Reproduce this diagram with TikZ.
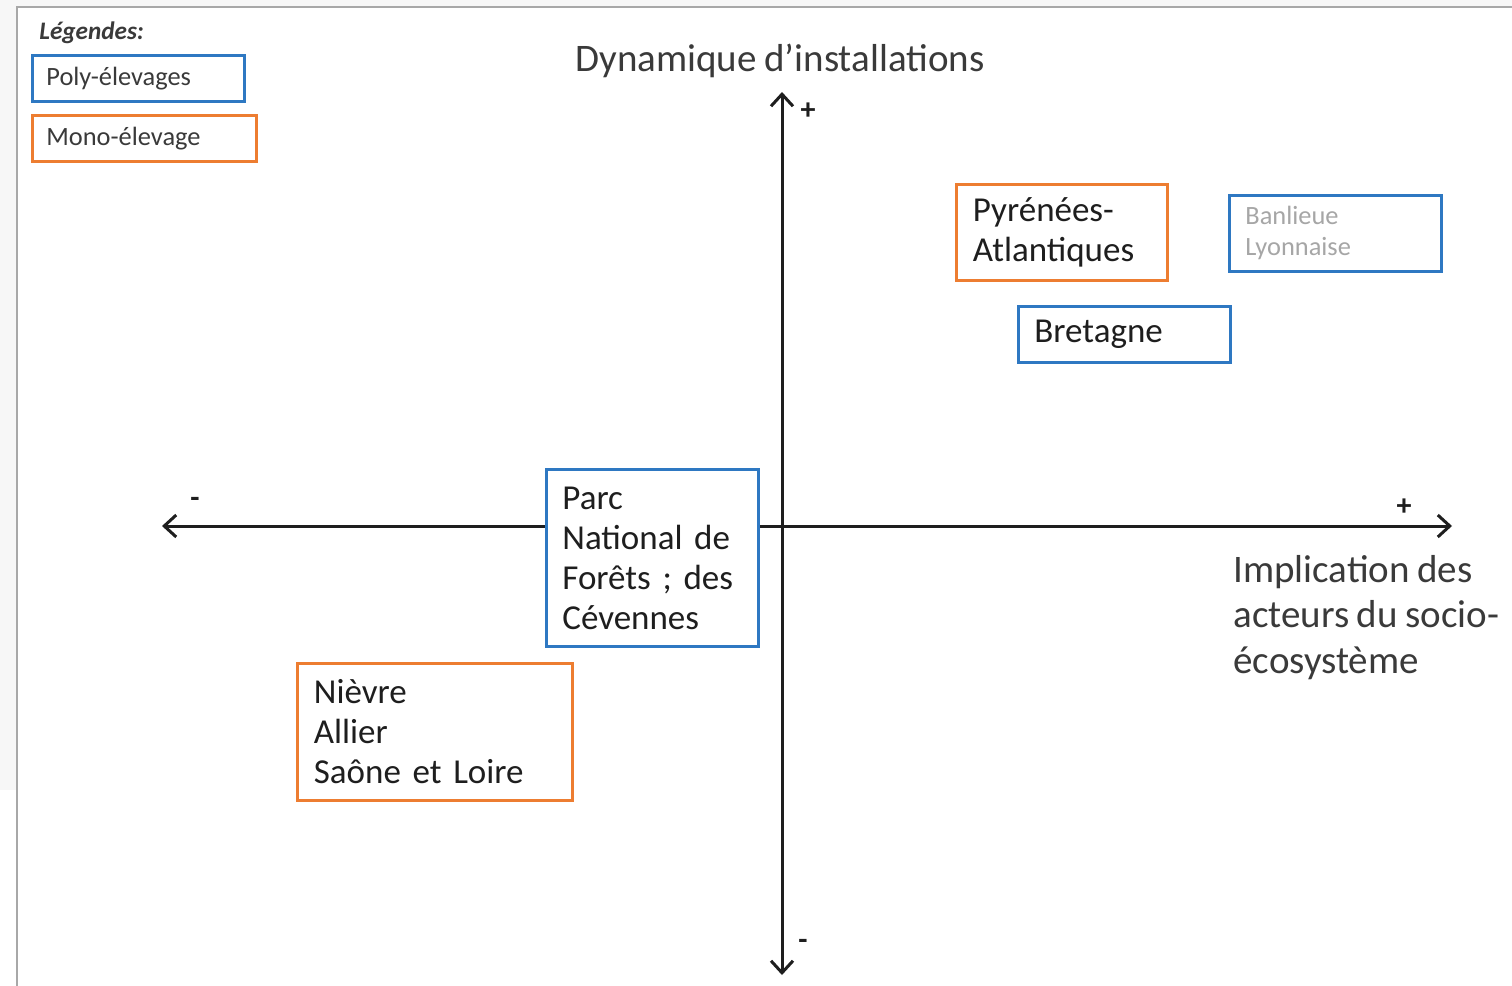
\documentclass[tikz,border=0pt]{standalone}
\usepackage{fontspec}
\setmainfont{Carlito}[WordSpace=0.85]
\usetikzlibrary{arrows.meta}
\definecolor{polyblue}{HTML}{2E78C2}
\definecolor{monoorange}{HTML}{ED7D31}
\definecolor{frame}{HTML}{A8A8A8}
\definecolor{txt}{HTML}{1E1E1E}
\definecolor{labtxt}{HTML}{3A3A3A}
\definecolor{faint}{HTML}{A6A6A6}
\begin{document}
\begin{tikzpicture}[x=0.5pt,y=-0.5pt,
  box/.style={draw, line width=1.4pt, fill=white, inner xsep=8pt, inner ysep=0pt,
    align=left, anchor=north west, text=txt, font=\fontsize{17.5}{20}\selectfont},
  poly/.style={box, draw=polyblue},
  mono/.style={box, draw=monoorange},
  legendbox/.style={box, font=\fontsize{13.2}{15}\selectfont, text=labtxt, inner xsep=7pt},
  axis/.style={line width=1.5pt, draw=txt, -{Straight Barb[length=6pt,width=11pt,line width=1.5pt]}},
  sign/.style={font=\fontsize{15}{18}\selectfont\bfseries, text=txt, inner sep=0pt},
  axlabel/.style={font=\fontsize{19.5}{22.7}\selectfont, text=labtxt, align=left, inner sep=0pt}]
\useasboundingbox (0,0) rectangle (1512,986);
% background/frame
\fill[white] (0,0) rectangle (1512,986);
\fill[black!3] (0,0) rectangle (1512,7);
\fill[black!3] (0,0) rectangle (17,790);
\draw[frame, line width=1pt] (17,986) -- (17,7) -- (1512,7);
% legend
\node[anchor=west, inner sep=0pt, font=\fontsize{12.6}{14}\selectfont\itshape\bfseries, text=labtxt] (leg) at (39,33) {Légendes:};
\node[legendbox, draw=polyblue, minimum width=106pt, minimum height=23pt, text width=92pt] (lpoly) at (31,54) {Poly-élevages};
\node[legendbox, draw=monoorange, minimum width=112pt, minimum height=23pt, text width=98pt] (lmono) at (31,114) {Mono-élevage};
% axes
\coordinate (hl) at (162,526);
\coordinate (hr) at (1452,526);
\coordinate (vt) at (782,92);
\coordinate (vb) at (782,975);
\coordinate (o) at (782,526);
\draw[axis] (o) -- (hl);
\draw[axis] (o) -- (hr);
\draw[axis] (o) -- (vt);
\draw[axis] (o) -- (vb);
\node[sign] (vplus) at (808,111) {+};
\node[sign] (vminus) at (803,944) {-};
\node[sign] (hminus) at (195,502) {-};
\node[sign] (hplus) at (1404,507) {+};
\node[axlabel, anchor=center] (ytitle) at (780,61) {Dynamique d’installations};
\node[axlabel, anchor=north west] (xtitle) at (1233,555) {Implication des\\acteurs du socio-\\écosystème};
% boxes
\node[mono, minimum width=105.5pt, minimum height=48pt, text width=89pt] (pyr) at (955,183) {Pyrénées-\\Atlantiques};
\node[poly, minimum width=106pt, minimum height=38pt, text width=90pt, text=faint, font=\fontsize{13.2}{15.5}\selectfont] (banl) at (1228,194) {Banlieue\\Lyonnaise};
\node[poly, minimum width=106pt, minimum height=28pt, text width=90pt] (bret) at (1017,305) {Bretagne};
\node[poly, minimum width=106pt, minimum height=88.5pt, text width=90pt] (parc) at (545,468) {Parc\\National de\\Forêts ; des\\Cévennes};
\node[mono, minimum width=137.5pt, minimum height=68.5pt, text width=121pt] (niev) at (296,662) {Nièvre\\Allier\\Saône et Loire};
\end{tikzpicture}
\end{document}
